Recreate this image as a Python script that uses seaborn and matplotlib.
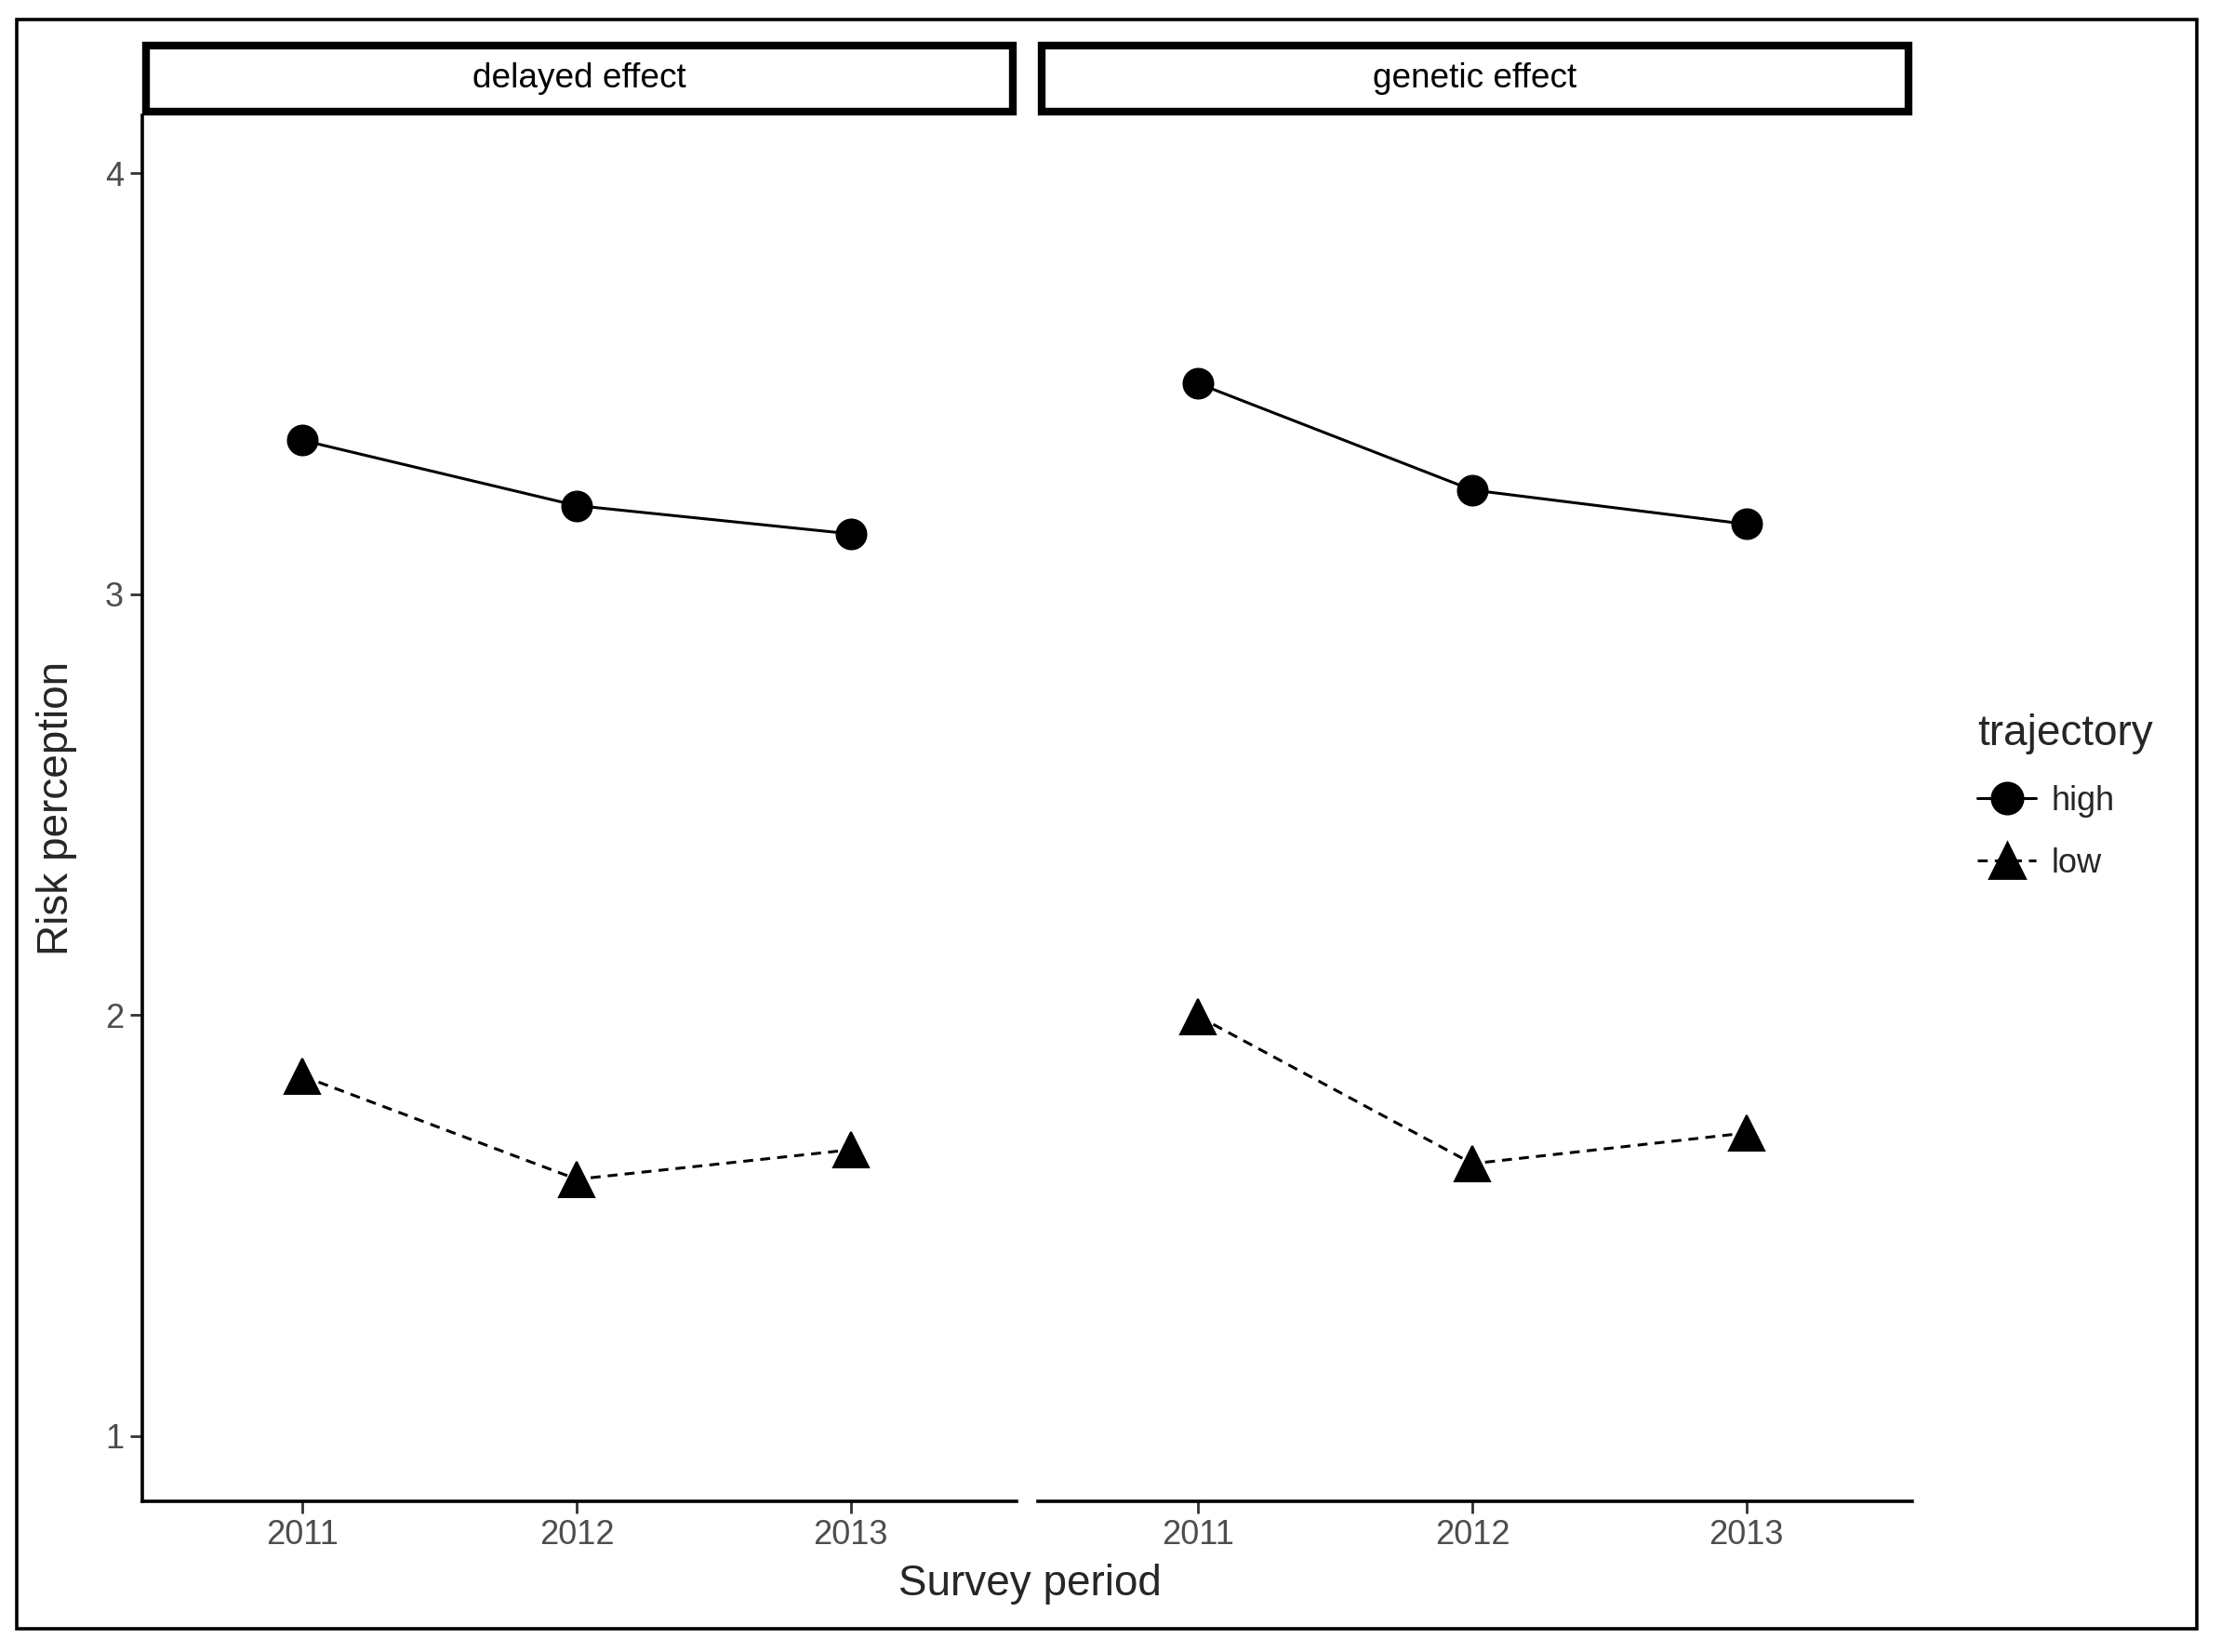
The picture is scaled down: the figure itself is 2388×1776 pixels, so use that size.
import numpy as np
import pandas as pd
import matplotlib
matplotlib.use("Agg")
import matplotlib.pyplot as plt
import seaborn as sns
from matplotlib.patches import Rectangle
from matplotlib.lines import Line2D

# values
years = ["2011", "2012", "2013"]
effects = ["delayed effect", "genetic effect"]
delayed_high = [3.365, 3.21, 3.143]
delayed_low = [1.855, 1.61, 1.68]
genetic_high = [3.50, 3.247, 3.166]
genetic_low = [1.997, 1.647, 1.72]
trajectories = ["high", "low"]
yticks = [1, 2, 3, 4]

rows = []
for eff, hi, lo in zip(effects, [delayed_high, genetic_high], [delayed_low, genetic_low]):
    for yr, h, l in zip(years, hi, lo):
        rows.append(dict(effect=eff, year=yr, trajectory="high", risk=h))
        rows.append(dict(effect=eff, year=yr, trajectory="low", risk=l))
df = pd.DataFrame(rows)

sns.set_theme(style="white")
plt.rcParams['font.family'] = ['Liberation Sans', 'DejaVu Sans']

W, H = 2388, 1776
fig = plt.figure(figsize=(W / 200, H / 200), dpi=200)

# outer frame
fig.patches.append(Rectangle((18 / W, 1 - 1751 / H), (2362 - 18) / W, (1751 - 21) / H,
                             transform=fig.transFigure, fill=False, edgecolor="black", linewidth=1.3))

styles = {
    "high": dict(marker="o", markersize=11.5, linestyle="-"),
    "low": dict(marker="^", markersize=13.5, linestyle=(0, (3.5, 2.5))),
}

panel_left = [153, 1116]
panel_w = 940
top_px, bottom_px = 124, 1614
strip_top = 45
tick_grey = "#333333"
label_grey = "#4D4D4D"

for i, eff in enumerate(effects):
    x0 = panel_left[i] / W
    ax = fig.add_axes([x0, 1 - bottom_px / H, panel_w / W, (bottom_px - top_px) / H])
    sub = df[df["effect"] == eff]
    for traj in trajectories:
        s = styles[traj]
        sns.lineplot(data=sub[sub["trajectory"] == traj], x="year", y="risk", ax=ax,
                     color="black", marker=s["marker"], markersize=s["markersize"],
                     markeredgecolor="black", linewidth=1.1, linestyle=s["linestyle"],
                     legend=False)
    ax.set_xlim(-0.585, 2.605)
    ax.set_ylim(0.845, 4.137)
    ax.set_yticks(yticks)
    ax.set_xlabel("")
    ax.set_ylabel("")
    ax.set_facecolor("white")
    for sp in ["top", "right"]:
        ax.spines[sp].set_visible(False)
    ax.spines["bottom"].set_linewidth(1.3)
    ax.spines["bottom"].set_color("black")
    ax.spines["left"].set_linewidth(1.3)
    ax.spines["left"].set_color("black")
    ax.tick_params(axis="both", which="major", length=4.7, width=1.0, color=tick_grey,
                   labelcolor=label_grey, labelsize=13, direction="out",
                   bottom=True, left=True)
    ax.tick_params(axis="x", pad=2)
    ax.tick_params(axis="y", pad=2.5)
    if i == 1:
        ax.spines["left"].set_visible(False)
        ax.tick_params(axis="y", left=False, labelleft=False)

    # facet strip
    lw_px = 8.5
    fig.patches.append(Rectangle(((panel_left[i] + lw_px / 2) / W, 1 - (top_px - lw_px / 2) / H),
                                 (panel_w - lw_px) / W, (top_px - strip_top - lw_px) / H,
                                 transform=fig.transFigure, facecolor="white",
                                 edgecolor="black", linewidth=3.0))
    fig.text((panel_left[i] + panel_w / 2) / W, 1 - ((top_px + strip_top) / 2) / H, eff,
             ha="center", va="center", fontsize=13.3, color="black")

fig.text(1107 / W, 1 - 1715 / H, "Survey period", ha="center", va="baseline", fontsize=16.5)
fig.text(61 / W, 1 - 869 / H, "Risk perception", ha="center", va="center",
         rotation=90, fontsize=16.5)

handles = [
    Line2D([], [], color="black", marker="o", markersize=12, linewidth=1.1, linestyle="-"),
    Line2D([], [], color="black", marker="^", markersize=14, linewidth=1.1,
           linestyle=(0, (3.5, 2.5))),
]
fig.legend(handles, trajectories, title="trajectory", loc="upper left",
           bbox_to_anchor=(2126 / W, 1 - 767 / H), frameon=False, fontsize=13,
           title_fontsize=16.5, handlelength=1.75, handletextpad=0.45,
           labelspacing=0.9, borderpad=0, borderaxespad=0, alignment="left")

fig.savefig("out.png", dpi=200, facecolor="white")
